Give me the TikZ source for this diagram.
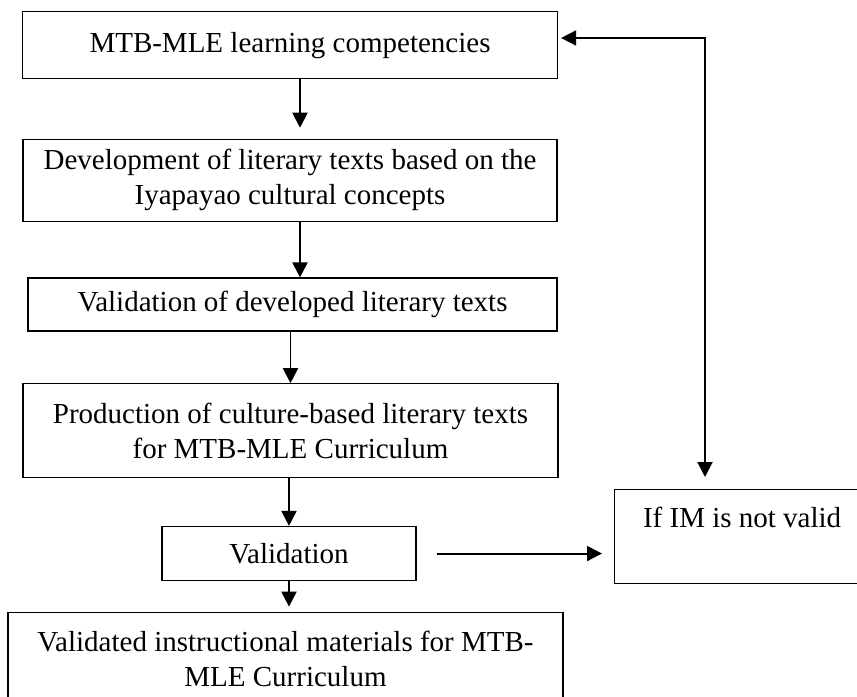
\documentclass[tikz,border=0pt]{standalone}
\usepackage{fontspec}
\setmainfont{Liberation Serif}
\usetikzlibrary{positioning}
\usetikzlibrary{arrows.meta}

\begin{document}
\begin{tikzpicture}[
            > = {Triangle[length=3mm, width=3mm]}, % arrow head style
            node distance = 1cm,
            thick
        ]

        \tikzstyle{every node}=[font=\fontsize{16.5}{19.9}\selectfont]
        \tikzstyle{stage}=[
            draw,
            line width = 0.7pt,
            align = center,
            inner sep = 0pt
        ]
        \tikzstyle{link}=[->, line width = 1.1pt]

        % page frame, boxes at the border run off it
        \clip (0,0) rectangle (17.14,-13.94);

        % main steps
        \node[stage, minimum width=10.7cm, minimum height=1.34cm] (comp) [anchor=north] at (5.8,-0.22) {MTB-MLE learning competencies};
        \node[stage, minimum width=10.68cm, minimum height=1.64cm] (devt) [below=1.19cm of comp] {Development of literary texts based on the\\Iyapayao cultural concepts};
        \node[stage, minimum width=10.58cm, minimum height=1.06cm] (valtext) [below=1.11cm of devt, xshift=0.05cm] {Validation of developed literary texts};
        \node[stage, minimum width=10.7cm, minimum height=1.88cm] (prod) [below=1.03cm of valtext, xshift=-0.04cm] {Production of culture-based literary texts\\for MTB-MLE Curriculum};
        \node[stage, minimum width=5.08cm, minimum height=1.08cm] (valid) [below=0.95cm of prod, xshift=-0.03cm] {Validation};
        \node[stage, minimum width=11.1cm, minimum height=1.88cm] (final) [below=0.61cm of valid, xshift=-0.07cm] {Validated instructional materials for MTB-\\MLE Curriculum};

        \path[link, shorten >=0.22cm] ([xshift=0.2cm]comp.south) edge ([xshift=0.2cm]comp.south |- devt.north);
        \path[link] ([xshift=0.2cm]devt.south) edge ([xshift=0.2cm]devt.south |- valtext.north);
        \path[link] (valtext.south -| prod.north) edge (prod.north);
        \path[link] (prod.south -| valid.north) edge (valid.north);
        \path[link, shorten >=0.1cm] (valid.south) edge (valid.south |- final.north);

        % rejected materials go back to the start
        \node[stage, minimum width=5.1cm, minimum height=1.88cm, text height=0.76cm, text depth=1.12cm] (notvalid) [anchor=north west] at (12.28,-9.78) {If IM is not valid};

        \path[link, shorten <=0.4cm, shorten >=0.24cm] (valid.east) edge (valid.east -| notvalid.west);

        \coordinate (turn) at (14.1,-0.76);
        \draw[link, <->, shorten <=0.06cm, shorten >=0.24cm] (comp.east |- turn) -- (turn) -- (turn |- notvalid.north);

\end{tikzpicture}
\end{document}
